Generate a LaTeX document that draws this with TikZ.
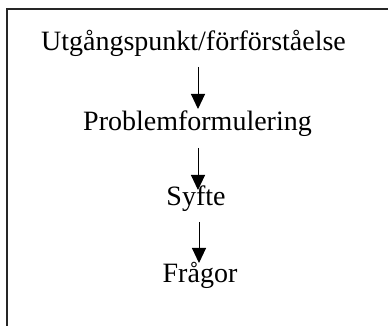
\documentclass[tikz,border=0pt]{standalone}
\usepackage{fontspec}
\setmainfont{Liberation Serif}
\usetikzlibrary{arrows.meta}
\tikzset{
  lbl/.style={anchor=base, inner sep=0pt, font=\fontsize{28bp}{32bp}\selectfont},
  arr/.style={line width=1bp, -{Triangle[length=15bp, width=14bp]}},
  frame/.style={line width=1.5bp, draw=black!85}
}
\begin{document}
\begin{tikzpicture}[x=1bp,y=1bp]
\useasboundingbox (0,0) rectangle (388,326);
\clip (0,0) rectangle (388,326);
\draw[frame] (7,-10) -- (7,317) -- (400,317);
\node[lbl] (u) at (193.5,276) {Utgångspunkt/förförståelse};
\node[lbl] (p) at (197.5,196) {Problemformulering};
\node[lbl] (s) at (196,121) {Syfte};
\node[lbl] (f) at (200,44) {Frågor};
\coordinate (a1s) at (198,259);
\coordinate (a1e) at (198,217);
\coordinate (a2s) at (198,178);
\coordinate (a2e) at (198,136);
\coordinate (a3s) at (199,104);
\coordinate (a3e) at (199,63);
\draw[arr] (a1s) -- (a1e);
\draw[arr] (a2s) -- (a2e);
\draw[arr] (a3s) -- (a3e);
\end{tikzpicture}
\end{document}
